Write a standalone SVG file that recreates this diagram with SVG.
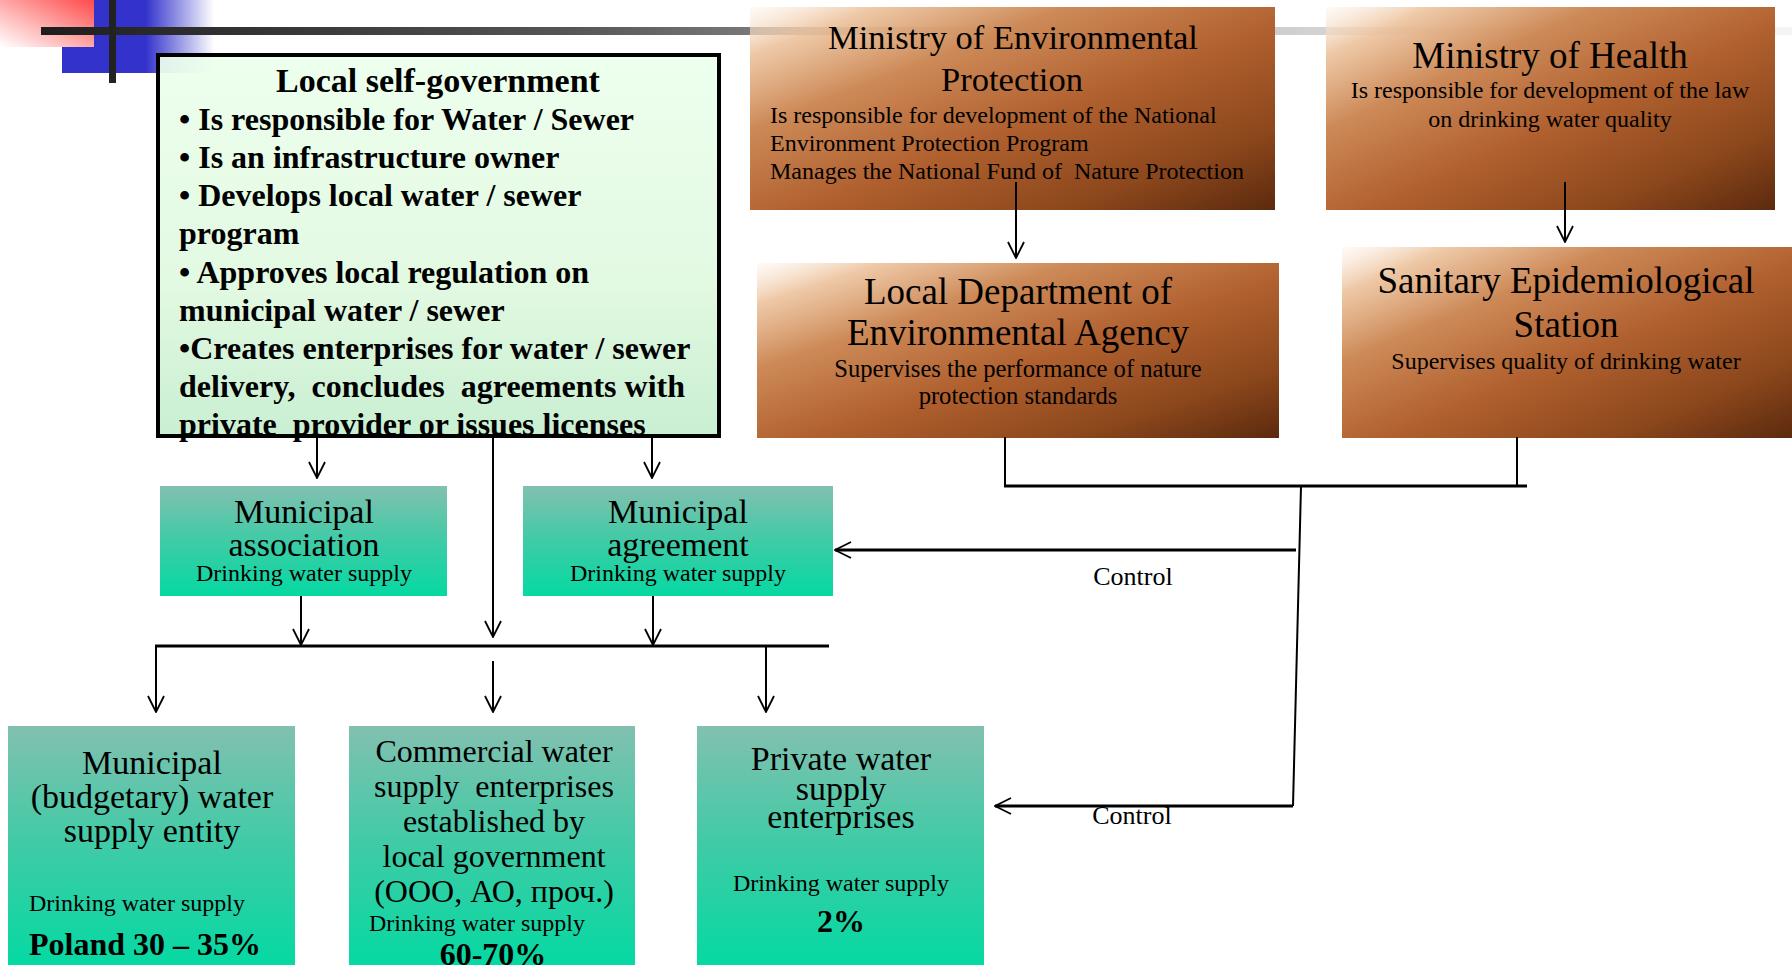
<svg xmlns="http://www.w3.org/2000/svg" width="1792" height="965" viewBox="0 0 1792 965">
<defs>
  <linearGradient id="pink" x1="1" y1="0" x2="0" y2="1">
    <stop offset="0" stop-color="#ff4a4a"/>
    <stop offset="0.55" stop-color="#ffb0b0"/>
    <stop offset="1" stop-color="#ffffff"/>
  </linearGradient>
  <linearGradient id="blue" x1="0" y1="0" x2="1" y2="0">
    <stop offset="0" stop-color="#3333cc"/>
    <stop offset="0.55" stop-color="#3333cc"/>
    <stop offset="1" stop-color="#3333cc" stop-opacity="0"/>
  </linearGradient>
  <linearGradient id="bar" x1="0" y1="0" x2="1" y2="0">
    <stop offset="0" stop-color="#1e1e1e"/>
    <stop offset="0.3" stop-color="#555555"/>
    <stop offset="0.55" stop-color="#a8a8a8"/>
    <stop offset="0.8" stop-color="#e4e4e4"/>
    <stop offset="1" stop-color="#f4f4f4"/>
  </linearGradient>
  <linearGradient id="mint" x1="0" y1="0" x2="0" y2="1">
    <stop offset="0" stop-color="#ecffec" stop-opacity="0.92"/>
    <stop offset="0.6" stop-color="#e2f9e2"/>
    <stop offset="1" stop-color="#c9efd2"/>
  </linearGradient>
  <linearGradient id="brown" x1="0" y1="0" x2="1" y2="1">
    <stop offset="0" stop-color="#fff6ee" stop-opacity="0.5"/>
    <stop offset="0.12" stop-color="#ecc29c" stop-opacity="0.9"/>
    <stop offset="0.3" stop-color="#cd8a58"/>
    <stop offset="0.55" stop-color="#b0602e"/>
    <stop offset="0.8" stop-color="#8c471c"/>
    <stop offset="1" stop-color="#5c2a0e"/>
  </linearGradient>
  <linearGradient id="teal" x1="0" y1="0" x2="0" y2="1">
    <stop offset="0" stop-color="#82c0b0"/>
    <stop offset="0.5" stop-color="#3fcba6"/>
    <stop offset="1" stop-color="#05d9a2"/>
  </linearGradient>
  <marker id="arr" viewBox="0 0 18 18" refX="17" refY="9" markerWidth="18" markerHeight="18" markerUnits="userSpaceOnUse" orient="auto">
    <path d="M1,1 L17,9 L1,17" fill="none" stroke="#000" stroke-width="1.8"/>
  </marker>
  <style>
    text { font-family: "Liberation Serif", "Times New Roman", serif; fill: #000; }
    .b { font-weight: bold; }
    .c { text-anchor: middle; }
    .pre { white-space: pre; }
    .lsg { font-size: 32px; font-weight: bold; }
    .t37 { font-size: 37px; }
    .s24 { font-size: 24px; }
    .g34 { font-size: 34px; }
    .g32 { font-size: 32px; }
    .pct { font-size: 32px; font-weight: bold; }
    .ctl { font-size: 26px; }
    .brownbox { fill: url(#brown); }
    .tealbox { fill: url(#teal); }
    .ln { fill: none; stroke: #000; stroke-width: 2; }
    .thick { fill: none; stroke: #000; stroke-width: 3; }
  </style>
</defs>
<rect width="1792" height="965" fill="#ffffff"/>

<g id="decoration">
  <rect x="62" y="0" width="152" height="73" fill="url(#blue)"/>
  <rect x="0" y="0" width="94" height="47" fill="url(#pink)"/>
  <rect x="41" y="27" width="1751" height="8" fill="url(#bar)"/>
  <rect x="109" y="0" width="7" height="83" fill="#222"/>
</g>

<g id="local-self-government">
  <rect x="158" y="55" width="561" height="381" fill="url(#mint)" stroke="#000" stroke-width="4"/>
  <text class="c b" x="438" y="92" font-size="34">Local self-government</text>
  <text class="lsg" x="179" y="130">• Is responsible for Water / Sewer</text>
  <text class="lsg" x="179" y="168">• Is an infrastructure owner</text>
  <text class="lsg" x="179" y="206">• Develops local water / sewer</text>
  <text class="lsg" x="179" y="244">program</text>
  <text class="lsg" x="179" y="283">• Approves local regulation on</text>
  <text class="lsg" x="179" y="321">municipal water / sewer</text>
  <text class="lsg" x="179" y="359">•Creates enterprises for water / sewer</text>
  <text class="lsg pre" x="179" y="397">delivery,  concludes  agreements with</text>
  <text class="lsg pre" x="179" y="435">private  provider or issues licenses</text>
</g>

<g id="ministry-env">
  <rect class="brownbox" x="750" y="7" width="525" height="203"/>
  <text class="c" x="1013" y="49" font-size="34.5">Ministry of Environmental</text>
  <text class="c" x="1012" y="91" font-size="34.5">Protection</text>
  <text class="s24" x="770" y="123">Is responsible for development of the National</text>
  <text class="s24" x="770" y="151">Environment Protection Program</text>
  <text class="s24 pre" x="770" y="179">Manages the National Fund of  Nature Protection</text>
</g>

<g id="ministry-health">
  <rect class="brownbox" x="1326" y="7" width="449" height="203"/>
  <text class="c" x="1550" y="68" font-size="37">Ministry of Health</text>
  <text class="c s24" x="1550" y="98">Is responsible for development of the law</text>
  <text class="c s24" x="1550" y="127">on drinking water quality</text>
</g>

<g id="local-dept-env">
  <rect class="brownbox" x="757" y="263" width="522" height="175"/>
  <text class="c t37" x="1018" y="304">Local Department of</text>
  <text class="c t37" x="1018" y="345">Environmental Agency</text>
  <text class="c" x="1018" y="377" font-size="24.6">Supervises the performance of nature</text>
  <text class="c" x="1018" y="404" font-size="24.6">protection standards</text>
</g>

<g id="sanitary-station">
  <rect class="brownbox" x="1342" y="247" width="450" height="191"/>
  <text class="c t37" x="1566" y="293">Sanitary Epidemiological</text>
  <text class="c t37" x="1566" y="337">Station</text>
  <text class="c s24" x="1566" y="369">Supervises quality of drinking water</text>
</g>

<g id="municipal-association">
  <rect class="tealbox" x="160" y="486" width="287" height="110"/>
  <text class="c g34" x="304" y="523">Municipal</text>
  <text class="c g34" x="304" y="556">association</text>
  <text class="c s24" x="304" y="581">Drinking water supply</text>
</g>

<g id="municipal-agreement">
  <rect class="tealbox" x="523" y="486" width="310" height="110"/>
  <text class="c g34" x="678" y="523">Municipal</text>
  <text class="c g34" x="678" y="556">agreement</text>
  <text class="c s24" x="678" y="581">Drinking water supply</text>
</g>

<g id="municipal-budgetary">
  <rect class="tealbox" x="8" y="726" width="287" height="239"/>
  <text class="c g34" x="152" y="774">Municipal</text>
  <text class="c g34" x="152" y="808">(budgetary) water</text>
  <text class="c g34" x="152" y="842">supply entity</text>
  <text class="s24" x="29" y="911">Drinking water supply</text>
  <text class="pct" x="29" y="955">Poland 30 – 35%</text>
</g>

<g id="commercial">
  <rect class="tealbox" x="349" y="726" width="286" height="239"/>
  <text class="c g32" x="494" y="762">Commercial water</text>
  <text class="c g32 pre" x="494" y="797">supply  enterprises</text>
  <text class="c g32" x="494" y="832">established by</text>
  <text class="c g32" x="494" y="867">local government</text>
  <text class="c g32" x="494" y="902">(ООО, АО, проч.)</text>
  <text class="s24" x="369" y="931">Drinking water supply</text>
  <text class="c pct" x="493" y="965">60-70%</text>
</g>

<g id="private">
  <rect class="tealbox" x="697" y="726" width="287" height="239"/>
  <text class="c g34" x="841" y="770">Private water</text>
  <text class="c g34" x="841" y="800">supply</text>
  <text class="c g34" x="841" y="828">enterprises</text>
  <text class="c s24" x="841" y="891">Drinking water supply</text>
  <text class="c pct" x="841" y="932">2%</text>
</g>

<g id="connectors">
  <path class="ln" d="M317,438 V478" marker-end="url(#arr)"/>
  <path class="ln" d="M652,438 V478" marker-end="url(#arr)"/>
  <path class="ln" d="M493,438 V637" marker-end="url(#arr)"/>
  <path class="ln" d="M301,596 V645" marker-end="url(#arr)"/>
  <path class="ln" d="M653,596 V645" marker-end="url(#arr)"/>
  <path class="thick" d="M155,646 H829"/>
  <path class="ln" d="M156,646 V712" marker-end="url(#arr)"/>
  <path class="ln" d="M493,661 V712" marker-end="url(#arr)"/>
  <path class="ln" d="M766,646 V712" marker-end="url(#arr)"/>
  <path class="ln" d="M1016,182 V258" marker-end="url(#arr)"/>
  <path class="ln" d="M1565,182 V242" marker-end="url(#arr)"/>
  <path class="ln" d="M1005,437 V486"/>
  <path class="ln" d="M1517,437 V486"/>
  <path class="thick" d="M1004,486 H1527"/>
  <path class="ln" d="M1301,486 L1293,806"/>
  <path class="thick" d="M1296,550 H835" marker-end="url(#arr)"/>
  <path class="thick" d="M1293,806 H995" marker-end="url(#arr)"/>
  <text class="c ctl" x="1133" y="585">Control</text>
  <text class="c ctl" x="1132" y="824">Control</text>
</g>
</svg>
